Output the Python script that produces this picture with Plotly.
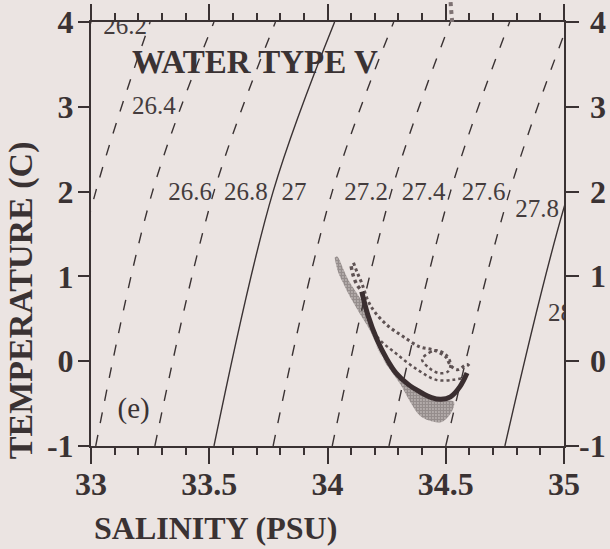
import plotly.graph_objects as go

# ---- data ----
# density (sigma-theta) isopycnals: salinity where each crosses T = -1, 2, 4 C
iso_T = [-1, 2, 4]
iso_levels = [26.2, 26.4, 26.6, 26.8, 27.0, 27.2, 27.4, 27.6, 27.8, 28.0]
iso_S = {
    26.2: [32.52, 32.77, 33.00],
    26.4: [32.77, 33.02, 33.25],
    26.6: [33.02, 33.26, 33.52],
    26.8: [33.27, 33.52, 33.78],
    27.0: [33.52, 33.77, 34.03],
    27.2: [33.77, 34.02, 34.28],
    27.4: [34.02, 34.27, 34.52],
    27.6: [34.26, 34.52, 34.77],
    27.8: [34.50, 34.77, 35.02],
    28.0: [34.75, 35.02, 35.28],
}
solid_levels = [27.0, 28.0]

# contour label positions (salinity, temperature)
lab_text = ["26.2", "26.4", "26.6", "26.8", "27", "27.2", "27.4", "27.6", "27.8"]
lab_S = [33.144, 33.266, 33.419, 33.655, 33.858, 34.163, 34.406, 34.660, 34.886]
lab_T = [3.93, 2.99, 1.97, 1.97, 1.97, 1.97, 1.97, 1.97, 1.78]

# mean T-S curve of water type V
mean_S = [34.145, 34.17, 34.21, 34.25, 34.29, 34.34, 34.39, 34.44, 34.48, 34.52, 34.56, 34.59]
mean_T = [0.82, 0.55, 0.25, 0.03, -0.14, -0.27, -0.36, -0.43, -0.45, -0.42, -0.30, -0.14]

# dense stippled envelope (left / lower side)
env_S = [34.030, 34.045, 34.07, 34.095, 34.12, 34.15, 34.18, 34.21, 34.24, 34.27, 34.31, 34.35,
         34.39, 34.43, 34.48, 34.52, 34.535, 34.50, 34.44, 34.38, 34.32, 34.27, 34.22, 34.18,
         34.15, 34.12, 34.09, 34.065, 34.05, 34.04]
env_T = [1.22, 1.05, 0.90, 0.76, 0.64, 0.50, 0.36, 0.17, 0.0, -0.12, -0.28, -0.48,
         -0.64, -0.70, -0.72, -0.62, -0.48, -0.46, -0.44, -0.36, -0.25, -0.10, 0.10, 0.40,
         0.68, 0.82, 0.95, 1.10, 1.20, 1.24]

# dotted envelope outlines (upper side)
up_S = [34.11, 34.125, 34.145, 34.17, 34.20, 34.25, 34.32, 34.39, 34.45, 34.50, 34.52, 34.55, 34.59, 34.605]
up_T = [1.16, 1.05, 0.92, 0.72, 0.58, 0.43, 0.29, 0.17, 0.13, 0.05, -0.05, -0.10, -0.04, -0.08]
fing_S = [34.10, 34.11, 34.125, 34.145]
fing_T = [1.12, 1.00, 0.90, 0.83]
loop_S = [34.40, 34.43, 34.46, 34.50, 34.52, 34.51, 34.47, 34.43, 34.40]
loop_T = [0.02, 0.10, 0.13, 0.08, -0.02, -0.12, -0.14, -0.08, 0.02]
inner_S = [34.17, 34.21, 34.29, 34.38, 34.46, 34.53, 34.57]
inner_T = [0.55, 0.29, 0.09, -0.10, -0.22, -0.22, -0.20]

x_ticks = [33, 33.5, 34, 34.5, 35]
x_tick_text = ["33", "33.5", "34", "34.5", "35"]
y_ticks = [-1, 0, 1, 2, 3, 4]
y_tick_text = ["-1", "0", "1", "2", "3", "4"]

INK = "#3a3233"
BG = "#ebe4e2"
SERIF = "Liberation Serif"

fig = go.Figure()

for lev in iso_levels:
    solid = lev in solid_levels
    fig.add_trace(go.Scatter(
        x=iso_S[lev], y=iso_T, mode="lines",
        line=dict(color=INK, width=1.4, shape="spline",
                  dash="solid" if solid else "11px,12px"),
        hoverinfo="skip", showlegend=False))

fig.add_trace(go.Scatter(
    x=env_S, y=env_T, mode="lines", fill="toself",
    line=dict(width=0, color="rgba(0,0,0,0)", shape="spline"),
    fillcolor="rgba(0,0,0,0)",
    fillpattern=dict(shape=".", size=3, solidity=0.8, fgcolor="#3f3536", bgcolor="rgba(0,0,0,0)"),
    hoverinfo="skip", showlegend=False))

for xs, ys, w in [(up_S, up_T, 3), (fing_S, fing_T, 3.5), (loop_S, loop_T, 2.5), (inner_S, inner_T, 2.5)]:
    fig.add_trace(go.Scatter(
        x=xs, y=ys, mode="lines",
        line=dict(color="#5e5253", width=w, dash="dot", shape="spline"),
        hoverinfo="skip", showlegend=False))

fig.add_trace(go.Scatter(
    x=mean_S, y=mean_T, mode="lines",
    line=dict(color="#3a2e30", width=5, shape="spline"),
    hoverinfo="skip", showlegend=False))

fig.add_trace(go.Scatter(
    x=lab_S, y=lab_T, mode="text", text=lab_text, textposition="middle center",
    textfont=dict(family=SERIF, size=25, color="#443c3d"),
    hoverinfo="skip", showlegend=False))
fig.add_trace(go.Scatter(
    x=[34.932], y=[0.545], mode="text", text=["28"], textposition="middle right",
    textfont=dict(family=SERIF, size=25, color="#443c3d"),
    hoverinfo="skip", showlegend=False))
fig.add_trace(go.Scatter(
    x=[33.18], y=[-0.59], mode="text", text=["(e)"], textposition="middle center",
    textfont=dict(family=SERIF, size=29, color=INK),
    hoverinfo="skip", showlegend=False))

# dummy trace for right-hand axis
fig.add_trace(go.Scatter(x=[33], y=[-1], yaxis="y2", mode="markers",
                         marker=dict(opacity=0), hoverinfo="skip", showlegend=False))

tickfont = dict(family=SERIF, size=32, color=INK, weight="bold")

# right-hand tick labels (right-aligned, as in the reference)
right_labels = [
    dict(text=t, xref="paper", yref="y", x=(608 - 91) / 473, y=v,
         xanchor="right", yanchor="middle", showarrow=False, font=tickfont)
    for t, v in zip(y_tick_text, y_ticks)
]

fig.update_layout(
    width=610, height=549,
    margin=dict(l=91, r=46, t=22, b=103, autoexpand=False),
    paper_bgcolor=BG, plot_bgcolor=BG,
    showlegend=False,
    xaxis=dict(range=[33, 35], showgrid=False, zeroline=False, automargin=False,
               showline=True, linecolor=INK, linewidth=2, mirror="ticks",
               ticks="outside", ticklen=16, tickwidth=2, tickcolor=INK,
               tickvals=x_ticks, ticktext=x_tick_text, tickfont=tickfont,
               ticklabelstandoff=-7,
               minor=dict(dtick=0.1, ticks="outside", ticklen=7, tickwidth=1.6, tickcolor=INK, showgrid=False)),
    yaxis=dict(range=[-1, 4], showgrid=False, zeroline=False, automargin=False,
               showline=True, linecolor=INK, linewidth=2,
               ticks="outside", ticklen=11, tickwidth=2, tickcolor=INK,
               tickvals=y_ticks, ticktext=y_tick_text, tickfont=tickfont,
               ticklabelstandoff=-2),
    yaxis2=dict(range=[-1, 4], overlaying="y", side="right", showgrid=False, zeroline=False,
                automargin=False,
                showline=True, linecolor=INK, linewidth=2,
                ticks="outside", ticklen=13, tickwidth=2, tickcolor=INK,
                tickvals=y_ticks, showticklabels=False),
    shapes=[dict(type="line", xref="x", yref="paper", x0=34.527, y0=1.0, x1=34.52, y1=1.05,
                 line=dict(color="#7d7172", width=4, dash="dot"))],
    annotations=[
        dict(text="WATER TYPE V", xref="x", yref="y", x=33.165, y=3.53,
             xanchor="left", yanchor="middle", showarrow=False,
             font=dict(family=SERIF, size=33, color=INK, weight="bold")),
        dict(text="TEMPERATURE (C)", xref="paper", yref="paper", x=-0.148, y=0.344,
             xanchor="center", yanchor="middle", textangle=-90, showarrow=False,
             font=dict(family=SERIF, size=34, color=INK, weight="bold")),
        dict(text="SALINITY (PSU)", xref="paper", yref="paper", x=0.264, y=-0.241,
             xanchor="center", yanchor="bottom", showarrow=False,
             font=dict(family=SERIF, size=32, color=INK, weight="bold")),
    ] + right_labels,
)

fig.write_html("out.html")
